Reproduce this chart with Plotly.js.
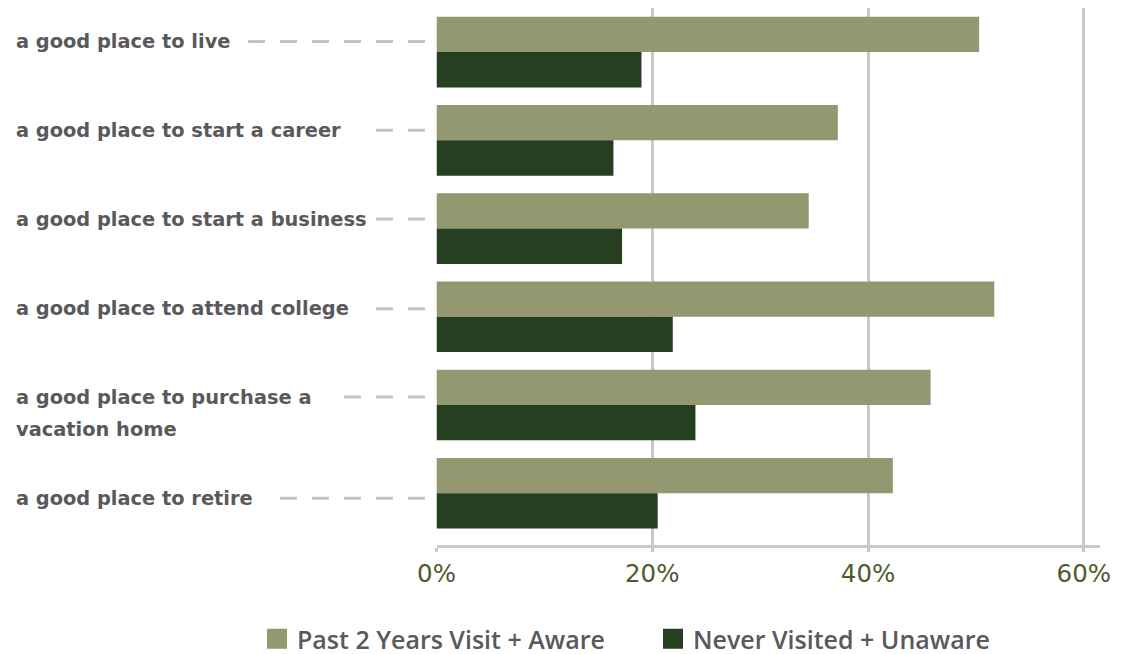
<!DOCTYPE html>
<html>
<head>
<meta charset="utf-8">
<script src="https://cdn.plot.ly/plotly-3.0.1.min.js"></script>
<style>
  html, body { margin: 0; padding: 0; background: #ffffff; }
  #chart { width: 1123px; height: 654px; }
</style>
</head>
<body>
<div id="chart"></div>
<script>
// ---------- data ----------
const categories = [
  'a good place to live',
  'a good place to start a career',
  'a good place to start a business',
  'a good place to attend college',
  'a good place to purchase a<br>vacation home',
  'a good place to retire'
];
const pastAware    = [50.3, 37.2, 34.5, 51.7, 45.8, 42.3];
const neverUnaware = [19.0, 16.4, 17.2, 21.9, 24.0, 20.5];
const seriesNames  = ['Past 2 Years Visit + Aware', 'Never Visited + Unaware'];
const tickVals     = [0, 20, 40, 60];
const tickText     = ['0%', '20%', '40%', '60%'];

// ---------- style ----------
const W = 1123, H = 654;
const M = { l: 0, r: 23, t: 8, b: 109 };
const PW = W - M.l - M.r, PH = H - M.t - M.b;
const AXIS_LEFT = 436.5;        // px where the value axis starts
const X_MAX = 61.5;
const Y_EXTRA = 0.086;
const BAND = PH / (categories.length + Y_EXTRA);
const LIGHT = '#939870', DARK = '#253f20';
const GRID = '#c8c8c8', LEADER = '#c2c2be';
const LABEL_COLOR = '#59595b', TICK_COLOR = '#4d5c2b';
const LABEL_FONT = { family: 'DejaVu Sans, sans-serif', size: 19.4, weight: 700 };
const LABEL_LEFT = 14;          // px from page left
const LABEL_DY = [-10.5, -10, -9.5, -8, -8, 5]; // px, + = down, relative to category centre
const LINE_STEP = 32;           // px between wrapped label lines
const LEADER_GAP = 8, LEADER_END = 425, DASH = 17, SPACE = 15;

function paperX(px) { return (px - M.l) / PW; }

// measure text width with canvas
const ctx = document.createElement('canvas').getContext('2d');
ctx.font = `bold ${LABEL_FONT.size}px "DejaVu Sans"`;

const annotations = [];
const shapes = [];
categories.forEach((cat, i) => {
  const lines = cat.split('<br>');
  const yData = i + LABEL_DY[i] / BAND;
  lines.forEach((ln, j) => {
    annotations.push({
      xref: 'paper', yref: 'y', x: paperX(LABEL_LEFT), y: yData,
      yshift: -j * LINE_STEP, xanchor: 'left', yanchor: 'middle',
      text: ln, showarrow: false, font: Object.assign({ color: LABEL_COLOR }, LABEL_FONT)
    });
  });
  const textEnd = LABEL_LEFT + 2 + ctx.measureText(lines[0]).width + LEADER_GAP;
  const k = Math.floor((LEADER_END - textEnd + SPACE) / (DASH + SPACE));
  const len = k * (DASH + SPACE) - SPACE;
  shapes.push({
    type: 'line', xref: 'paper', yref: 'y',
    x0: paperX(LEADER_END), x1: paperX(LEADER_END - len),
    y0: yData, y1: yData,
    line: { color: LEADER, width: 3, dash: DASH + 'px,' + SPACE + 'px' }
  });
});

const traces = [
  { type: 'bar', orientation: 'h', name: seriesNames[0], y: categories, x: pastAware,
    marker: { color: LIGHT, line: { width: 0 } }, hoverinfo: 'x+y' },
  { type: 'bar', orientation: 'h', name: seriesNames[1], y: categories, x: neverUnaware,
    marker: { color: DARK, line: { width: 0 } }, hoverinfo: 'x+y' }
];

const layout = {
  width: W, height: H,
  margin: M,
  paper_bgcolor: '#ffffff', plot_bgcolor: '#ffffff',
  barmode: 'group', bargap: 0.2, bargroupgap: 0,
  showlegend: true,
  legend: {
    orientation: 'h', xref: 'container', yref: 'container',
    x: 257 / W, xanchor: 'left', y: (H - 639) / H, yanchor: 'middle',
    font: { family: 'Open Sans, sans-serif', size: 25, color: LABEL_COLOR, weight: 600 },
    entrywidth: 351, entrywidthmode: 'pixels', traceorder: 'normal'
  },
  xaxis: {
    domain: [paperX(AXIS_LEFT), 1],
    range: [0, X_MAX], tickvals: tickVals, ticktext: tickText,
    showgrid: true, gridcolor: GRID, gridwidth: 3, zeroline: false,
    showline: true, linecolor: GRID, linewidth: 3,
    ticks: 'outside', ticklen: 4, tickcolor: GRID, tickwidth: 3,
    tickfont: { family: 'DejaVu Sans, sans-serif', size: 24.5, color: TICK_COLOR },
    ticklabelstandoff: 1, fixedrange: true, automargin: false
  },
  yaxis: {
    type: 'category', categoryorder: 'array', categoryarray: categories,
    range: [categories.length - 0.5 + Y_EXTRA, -0.5],
    showticklabels: false, showgrid: false, zeroline: false, showline: false, ticks: '',
    fixedrange: true, automargin: false
  },
  annotations: annotations,
  shapes: shapes
};

Plotly.newPlot('chart', traces, layout, { displayModeBar: false, staticPlot: true }).then(gd => {
  gd.querySelectorAll('.legendpoints path').forEach(p => p.setAttribute('d', 'M10,10H-10V-10H10Z'));
});
</script>
</body>
</html>
